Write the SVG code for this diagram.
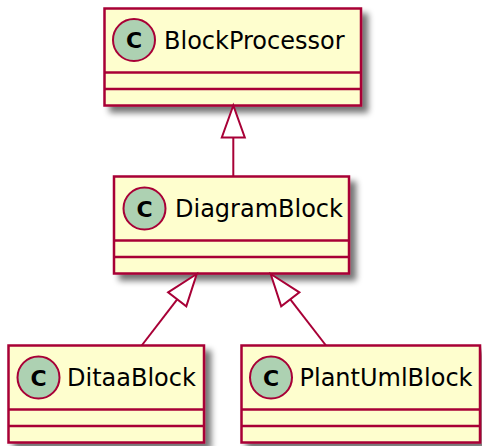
<svg xmlns="http://www.w3.org/2000/svg" width="482" height="446" viewBox="0 0 482 446">
  <defs>
    <filter id="shadow" x="-20%" y="-20%" width="150%" height="150%">
      <feGaussianBlur in="SourceAlpha" stdDeviation="3" result="b"/>
      <feOffset in="b" dx="6" dy="6" result="o"/>
      <feComponentTransfer in="o" result="s">
        <feFuncA type="linear" slope="0.55"/>
      </feComponentTransfer>
      <feMerge>
        <feMergeNode in="s"/>
        <feMergeNode in="SourceGraphic"/>
      </feMerge>
    </filter>
  </defs>
  <style>
    .box { fill: #FEFECE; stroke: #A80036; stroke-width: 2.5; }
    .div { stroke: #A80036; stroke-width: 2.5; }
    .spot { fill: #ADD1B2; stroke: #A80036; stroke-width: 2; }
    .spotc { font-family: "DejaVu Sans", sans-serif; font-weight: bold; font-size: 22px; fill: #000000; text-anchor: middle; }
    .name { font-family: "DejaVu Sans", sans-serif; font-size: 24px; fill: #000000; }
    .edge { stroke: #A80036; stroke-width: 2; fill: none; }
    .head { stroke: #A80036; stroke-width: 2; fill: #FFFFFF; }
  </style>

  <g id="BlockProcessor">
    <rect class="box" x="104.5" y="8.5" width="256.5" height="97" filter="url(#shadow)"/>
    <line class="div" x1="104.5" y1="72.5" x2="361" y2="72.5"/>
    <line class="div" x1="104.5" y1="89" x2="361" y2="89"/>
    <circle class="spot" cx="134" cy="40" r="21"/>
    <text class="spotc" x="134" y="48">C</text>
    <text class="name" x="164" y="49">BlockProcessor</text>
  </g>

  <g id="DiagramBlock">
    <rect class="box" x="114" y="176.5" width="235" height="97" filter="url(#shadow)"/>
    <line class="div" x1="114" y1="240.5" x2="349" y2="240.5"/>
    <line class="div" x1="114" y1="257" x2="349" y2="257"/>
    <circle class="spot" cx="144.5" cy="208.5" r="21"/>
    <text class="spotc" x="144.5" y="216.5">C</text>
    <text class="name" x="175" y="217">DiagramBlock</text>
  </g>

  <g id="DitaaBlock">
    <rect class="box" x="8.5" y="345.5" width="195.5" height="97" filter="url(#shadow)"/>
    <line class="div" x1="8.5" y1="409.5" x2="204" y2="409.5"/>
    <line class="div" x1="8.5" y1="426" x2="204" y2="426"/>
    <circle class="spot" cx="38.5" cy="377.5" r="21"/>
    <text class="spotc" x="38.5" y="385.5">C</text>
    <text class="name" x="67" y="386">DitaaBlock</text>
  </g>

  <g id="PlantUmlBlock">
    <rect class="box" x="241.5" y="345.5" width="238.5" height="97" filter="url(#shadow)"/>
    <line class="div" x1="241.5" y1="409.5" x2="480" y2="409.5"/>
    <line class="div" x1="241.5" y1="426" x2="480" y2="426"/>
    <circle class="spot" cx="271" cy="377.5" r="21"/>
    <text class="spotc" x="271" y="385.5">C</text>
    <text class="name" x="299.5" y="386">PlantUmlBlock</text>
  </g>

  <g id="connectors">
    <line class="edge" x1="233.3" y1="176.5" x2="233.3" y2="137.5"/>
    <polygon class="head" points="233.3,105.5 221.8,137.5 244.8,137.5"/>
    <line class="edge" x1="141.7" y1="345.5" x2="177.2" y2="299.4"/>
    <polygon class="head" points="196.7,274 168.1,292.4 186.3,306.4"/>
    <line class="edge" x1="326" y1="345.5" x2="290.3" y2="299.3"/>
    <polygon class="head" points="270.7,274 281.2,306.3 299.4,292.3"/>
  </g>
</svg>
